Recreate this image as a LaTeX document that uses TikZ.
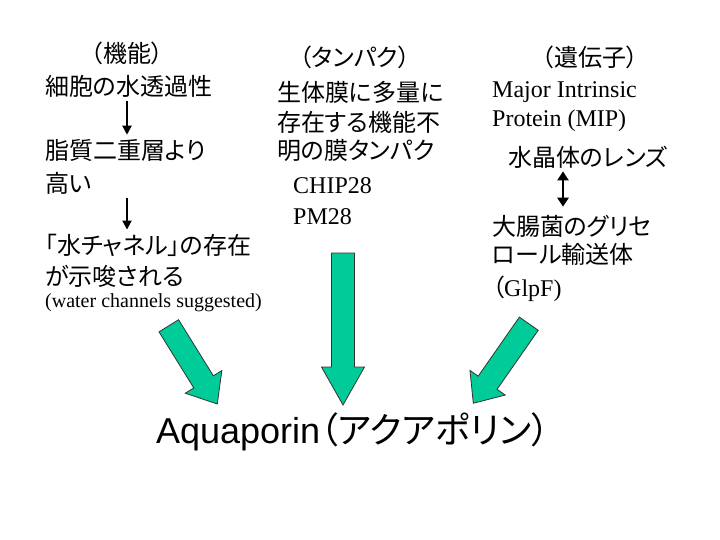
\documentclass[tikz,border=0pt]{standalone}
\usepackage{fontspec}
\setmainfont{Liberation Serif}
\newfontfamily\jpfont{Noto Sans CJK JP}[RawFeature=+palt]
\newfontfamily\arialfont{Liberation Sans}
\usetikzlibrary{arrows.meta}
\definecolor{aqgreen}{RGB}{0,204,153}
\tikzset{
  jp/.style={anchor=west,inner sep=0pt,font=\jpfont\fontsize{24}{28}\selectfont},
  lat/.style={anchor=west,inner sep=0pt,font=\fontsize{24}{28}\selectfont},
  arr/.style={-{Triangle[length=9pt,width=9pt]},line width=2pt},
  darr/.style={{Triangle[length=9pt,width=11pt]}-{Triangle[length=9pt,width=11pt]},line width=2.5pt},
  head len/.store in=\aqhead, head len=38,
  bigarrow/.pic={
    \draw[fill=aqgreen,draw=black!80,line width=0.8pt,line join=miter]
      (0,-11.5) -- (#1-\aqhead,-11.5) -- (#1-\aqhead,-21.5) -- (#1,0)
      -- (#1-\aqhead,21.5) -- (#1-\aqhead,11.5) -- (0,11.5) -- cycle;
  },
}

\begin{document}
\begin{tikzpicture}[x=1pt,y=-1pt]

  \fill[white] (0,0) rectangle (720,540);
  \useasboundingbox (0,0) rectangle (720,540);

  % left column: function
  \node[jp,anchor=center] (func) at (127,53) {（機能）};
  \node[jp] (perm)  at (45,86)  {細胞の水透過性};
  \node[jp] (lipid) at (45,150) {脂質二重層より};
  \node[jp] (high)  at (45,183) {高い};
  \node[jp] (chan)  at (45,245) {「水チャネル」の存在};
  \node[jp] (sugg)  at (45,276) {が示唆される};
  \node[lat,font=\fontsize{20}{24}\selectfont] (eng) at (45,303) {(water channels suggested)};

  \draw[arr] ([yshift=-4pt]perm.south -| func) -- ([yshift=4pt]lipid.north -| func);
  \draw[arr] ([yshift=-4pt]high.south -| func) -- ([yshift=4pt]chan.north -| func);

  % middle column: protein
  \node[jp,anchor=center] (prot) at (355,57) {（タンパク）};
  \foreach \name/\y/\txt in {mem1/92/生体膜に多量に, mem2/122/存在する機能不, mem3/150/明の膜タンパク}{
    \node[jp] (\name) at (277,\y) {\txt};
  }
  \node[lat] (chip) at (293,186) {CHIP28};
  \node[lat] (pm)   at (293,217) {PM28};

  % right column: gene
  \node[jp,anchor=center] (gene) at (590,57) {（遺伝子）};
  \node[lat] (mip1) at (492,92)  {Major Intrinsic};
  \node[lat] (mip2) at (492,121) {Protein (MIP)};
  \node[jp]  (lens) at (508,157) {水晶体のレンズ};
  \node[jp]  (glp1) at (492,226) {大腸菌のグリセ};
  \node[jp]  (glp2) at (492,254) {ロール輸送体};
  \node[lat] (glpf) at (492,289) {\jpfont（\rmfamily GlpF)};

  \coordinate (lx) at ([xshift=55pt]lens.south west);
  \draw[darr] ([yshift=-3pt]lx) -- ([yshift=8pt]glp1.north -| lx);

  % result
  \node[inner sep=0pt,font=\fontsize{36}{42}\selectfont] (aqp) at (353,432)
    {\arialfont Aquaporin\jpfont（アクアポリン）};

  \pic[rotate=-58.2,head len=26] (la) at (168.8,325.8) {bigarrow=92};
  \pic[rotate=-90] (ma) at (343,253) {bigarrow=152};
  \pic[rotate=-124.9,head len=25] (ra) at (528.8,323.7) {bigarrow=97};

\end{tikzpicture}
\end{document}
